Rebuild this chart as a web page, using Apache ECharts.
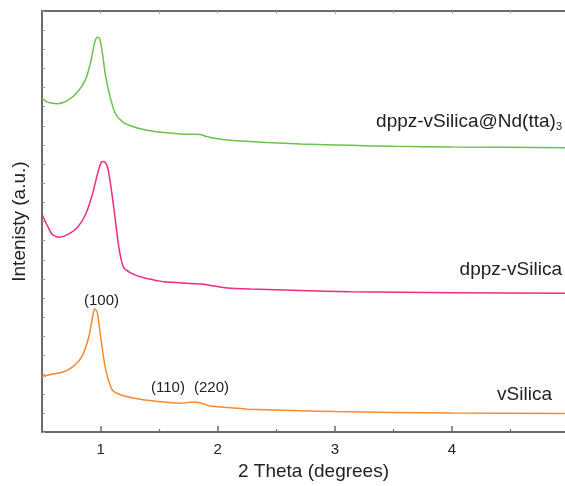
<!DOCTYPE html>
<html><head><meta charset="utf-8">
<script src="https://cdn.jsdelivr.net/npm/echarts@6/dist/echarts.min.js"></script>
<style>html,body{margin:0;padding:0;background:#fff}#c{width:565px;height:486px}</style>
</head><body><div id="c"></div>
<script>
// 2 Theta (degrees) and intensity (a.u.)
var greenX = [0.5,0.546,0.631,0.717,0.802,0.873,0.915,0.949,0.972,0.992,1.015,1.043,1.086,1.128,1.197,1.313,1.427,1.512,1.711,1.853,1.896,1.995,2.137,2.422,2.706,3.135,3.5,4.0,4.965];
var greenY = [17.44,17.24,17.16,17.32,17.75,18.44,19.32,20.35,20.63,20.56,19.83,18.60,17.41,16.63,16.17,15.89,15.74,15.67,15.56,15.55,15.46,15.33,15.23,15.13,15.05,14.98,14.93,14.90,14.86];
var pinkX = [0.5,0.546,0.589,0.645,0.717,0.802,0.873,0.930,0.972,1.006,1.029,1.058,1.086,1.120,1.156,1.194,1.256,1.370,1.497,1.540,1.881,1.938,2.081,2.279,2.706,3.135,4.0,4.965];
var pinkY = [11.38,10.78,10.32,10.18,10.32,10.69,11.38,12.41,13.45,14.10,14.14,13.88,12.93,11.38,9.66,8.63,8.32,8.06,7.90,7.85,7.73,7.66,7.53,7.47,7.40,7.33,7.28,7.26];
var orangeX = [0.5,0.589,0.688,0.773,0.844,0.901,0.930,0.949,0.972,1.000,1.043,1.100,1.171,1.313,1.455,1.683,1.793,1.853,1.938,2.137,2.251,2.706,2.996,3.5,4.0,4.965];
var orangeY = [2.89,3.03,3.15,3.46,3.98,5.01,5.96,6.45,6.25,5.01,3.29,2.21,1.95,1.74,1.62,1.51,1.57,1.52,1.36,1.26,1.20,1.12,1.07,1.03,1.00,0.97];
var majorTicks = [1,2,3,4];
var minorTicks = [1.5,2.5,3.5,4.5];
var seriesNames = ['dppz-vSilica@Nd(tta)3','dppz-vSilica','vSilica'];
var peakNames = ['(100)','(110)','(220)'];

function pairs(xs, ys){ return xs.map(function(x,i){ return [x, ys[i]]; }); }
var FONT = '"Liberation Sans", Arial, sans-serif';
var AXC = '#6b6b6b';
var chart = echarts.init(document.getElementById('c'), null, {renderer:'canvas'});
var xBase = {type:'value', min:0.5, max:4.965, splitLine:{show:false}};
chart.setOption({
  animation:false,
  backgroundColor:'#fff',
  grid:{left:42, right:0, top:11, bottom:49, containLabel:false},
  xAxis:[
    Object.assign({}, xBase, {position:'bottom',
      name:'2 Theta (degrees)', nameLocation:'middle', nameGap:29,
      nameTextStyle:{fontSize:19, color:'#222', fontFamily:FONT, padding:[0,0,0,20]},
      axisLine:{show:true, onZero:false, lineStyle:{color:AXC, width:2}},
      axisTick:{show:true, inside:true, length:6, customValues:majorTicks, lineStyle:{color:AXC, width:1.5}},
      axisLabel:{show:true, customValues:majorTicks, fontSize:15, color:'#222', fontFamily:FONT, margin:10}}),
    Object.assign({}, xBase, {position:'bottom',
      axisLine:{show:false},
      axisTick:{show:true, inside:true, length:3, customValues:minorTicks, lineStyle:{color:AXC, width:1.2}},
      axisLabel:{show:false}}),
    Object.assign({}, xBase, {position:'top',
      axisLine:{show:true, onZero:false, lineStyle:{color:AXC, width:2}},
      axisTick:{show:true, inside:true, length:3, customValues:[1,1.5,2,2.5,3,3.5,4,4.5], lineStyle:{color:'#aaa', width:1}},
      axisLabel:{show:false}})
  ],
  yAxis:{type:'value', min:0, max:22, interval:1, position:'left',
    name:'Intenisty (a.u.)', nameLocation:'middle', nameGap:13,
    nameTextStyle:{fontSize:19, color:'#222', fontFamily:FONT},
    axisLine:{show:true, onZero:false, lineStyle:{color:AXC, width:2}},
    axisTick:{show:true, inside:true, length:3, lineStyle:{color:'#999', width:1}},
    axisLabel:{show:false}, splitLine:{show:false}},
  series:[
    {name:seriesNames[0], type:'line', data:pairs(greenX, greenY), showSymbol:false, smooth:0.25, lineStyle:{color:'#6cc24a', width:1.5}},
    {name:seriesNames[1], type:'line', data:pairs(pinkX, pinkY), showSymbol:false, smooth:0.25, lineStyle:{color:'#ee2a84', width:1.5}},
    {name:seriesNames[2], type:'line', data:pairs(orangeX, orangeY), showSymbol:false, smooth:0.25, lineStyle:{color:'#f68b2c', width:1.5}}
  ],
  graphic:[
    {type:'text', right:3, top:112, style:{text:'dppz-vSilica@Nd(tta){s|3}', font:'19px '+FONT, fill:'#222',
      rich:{s:{fontSize:11, fontFamily:FONT, fill:'#222', verticalAlign:'bottom', padding:[10,0,0,0]}}}},
    {type:'text', right:3, top:260, style:{text:'dppz-vSilica', font:'19px '+FONT, fill:'#222'}},
    {type:'text', right:13, top:385, style:{text:'vSilica', font:'19px '+FONT, fill:'#222'}},
    {type:'text', left:84, top:293, style:{text:peakNames[0], font:'15px '+FONT, fill:'#222'}},
    {type:'text', left:151, top:380, style:{text:peakNames[1], font:'15px '+FONT, fill:'#222'}},
    {type:'text', left:194, top:380, style:{text:peakNames[2], font:'15px '+FONT, fill:'#222'}}
  ]
});
</script></body></html>
